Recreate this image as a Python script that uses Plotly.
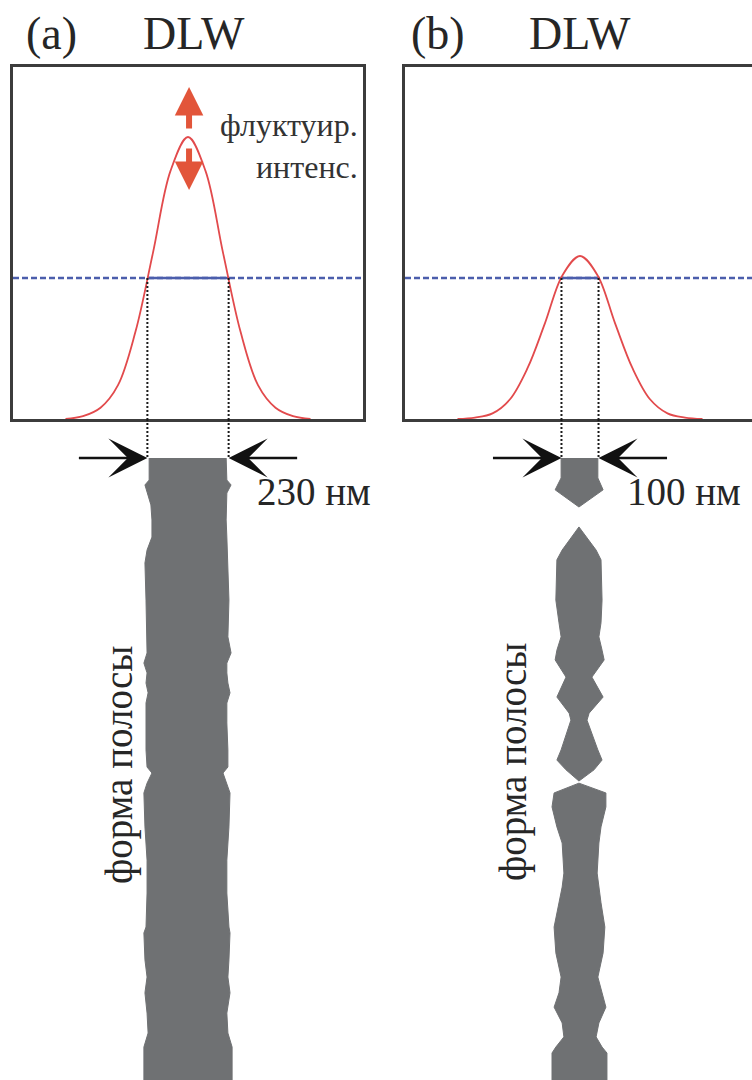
import numpy as np
import plotly.graph_objects as go

W, H = 752, 1080

# ---------------- data ----------------
# laser intensity profiles (normalised), lateral position in nm
profile_x_nm = [-350, -300, -250, -200, -150, -100, -50, 0, 50, 100, 150, 200, 250, 300, 350]
intensity_a = [0.0, 0.01, 0.04, 0.12, 0.31, 0.59, 0.88, 1.00, 0.88, 0.59, 0.31, 0.12, 0.04, 0.01, 0.0]
intensity_b = [0.0, 0.005, 0.02, 0.07, 0.18, 0.34, 0.51, 0.578, 0.51, 0.34, 0.18, 0.07, 0.02, 0.005, 0.0]
threshold = 0.5

panel_labels = ["(a)", "(b)"]
method_label = "DLW"
width_labels = ["230 нм", "100 нм"]
stripe_label = "форма полосы"
fluct_label = "флуктуир.<br>интенс."

# stripe shape (a): position along stripe (nm) and left/right edges (nm)
stripe_a_pos = [0, 63, 77, 100, 134, 177, 226, 263, 300, 406, 511, 557, 586, 614, 643, 671, 700, 757,
                834, 883, 900, 929, 957, 1054, 1149, 1243, 1340, 1357, 1434, 1483, 1528, 1586, 1643, 1683, 1800]
stripe_a_left = [-111, -111, -123, -117, -106, -103, -103, -117, -123, -120, -117, -117, -126, -117, -120,
                 -114, -120, -120, -120, -117, -103, -117, -126, -123, -117, -117, -120, -126, -123, -117,
                 -123, -117, -114, -126, -126]
stripe_a_right = [109, 111, 123, 111, 111, 109, 111, 114, 114, 117, 114, 123, 111, 111, 114, 120, 111, 111,
                  114, 114, 100, 111, 120, 117, 111, 111, 117, 120, 117, 114, 120, 111, 114, 126, 126]

# stripe shape (b): three separate fragments
stripe_b_pos = [
    [0, 57, 91, 140],
    [197, 263, 291, 406, 471, 511, 549, 577, 626, 683, 729, 749, 834, 863, 891, 923],
    [929, 957, 997, 1054, 1100, 1186, 1226, 1271, 1340, 1414, 1483, 1528, 1569, 1614, 1654, 1683, 1700, 1800],
]
stripe_b_left = [
    [-54, -54, -71, -3],
    [-3, -51, -66, -69, -60, -54, -66, -71, -40, -66, -31, -26, -54, -66, -40, -3],
    [-3, -74, -80, -66, -51, -46, -51, -60, -74, -69, -54, -60, -74, -51, -46, -69, -80, -80],
]
stripe_b_right = [
    [51, 51, 66, -3],
    [-3, 46, 60, 63, 60, 54, 63, 69, 34, 66, 26, 20, 51, 63, 40, -3],
    [-3, 74, 74, 60, 54, 49, 54, 60, 71, 66, 51, 63, 74, 54, 46, 63, 77, 77],
]

# ---------------- style / layout ----------------
FONT = "Liberation Serif, Times New Roman, serif"
TXT = "#262626"
BOX = "#3c3c3c"
RED = "#e24a4c"
ARROW_RED = "#e2553a"
BLUE = "#4b5eac"
GRAY = "#6f7173"

NM = 1000 / 350          # nm per pixel
PX_PER_UNIT = 282        # pixels per unit of intensity
BOX_TOP, BOX_BOT = 67, 419
STRIPE_TOP = 458

XA_DOM = [13 / W, 363 / W]
XB_DOM = [405 / W, 1.0]
XR_A = [-500, 500]
XR_B = [-500, -500 + (W - 405) * NM]
TOP_DOM = [1 - BOX_BOT / H, 1 - BOX_TOP / H]
STRIPE_DOM = [0, 1 - BOX_BOT / H]
YR_TOP = [0, (BOX_BOT - BOX_TOP) / PX_PER_UNIT]
YR_STRIPE = [(H - STRIPE_TOP) * NM, (BOX_BOT - STRIPE_TOP) * NM]


def px(x):
    return x / W


def py(y):
    return 1 - y / H


def crossings(xs, ys, level):
    xs = np.asarray(xs, float)
    ys = np.asarray(ys, float)
    i = int(np.argmax(ys))
    left = np.interp(level, ys[: i + 1], xs[: i + 1])
    right = np.interp(level, ys[i:][::-1], xs[i:][::-1])
    return float(left), float(right)


fig = go.Figure()

panels = [
    dict(xa="x", ya="y", xs="x3", ys="y3", inten=intensity_a, xr=XR_A),
    dict(xa="x2", ya="y2", xs="x4", ys="y4", inten=intensity_b, xr=XR_B),
]

annotations = []
for p in panels:
    xl, xr = crossings(profile_x_nm, p["inten"], threshold)
    # threshold level (dashed) and width segment (solid)
    fig.add_trace(go.Scatter(x=p["xr"], y=[threshold, threshold], mode="lines",
                             line=dict(color=BLUE, width=2.4, dash="6px,3px"),
                             xaxis=p["xa"], yaxis=p["ya"], hoverinfo="skip"))
    fig.add_trace(go.Scatter(x=[xl, xr], y=[threshold, threshold], mode="lines",
                             line=dict(color=BLUE, width=2.4),
                             xaxis=p["xa"], yaxis=p["ya"], hoverinfo="skip"))
    # intensity profile
    fig.add_trace(go.Scatter(x=profile_x_nm, y=p["inten"], mode="lines",
                             line=dict(color=RED, width=1.8, shape="spline", smoothing=1.0),
                             xaxis=p["xa"], yaxis=p["ya"], hoverinfo="skip"))
    # dotted projection lines
    for xc in (xl, xr):
        fig.add_trace(go.Scatter(x=[xc, xc], y=[threshold, 0], mode="lines",
                                 line=dict(color="#1a1a1a", width=2, dash="2px,2px"),
                                 xaxis=p["xa"], yaxis=p["ya"], hoverinfo="skip"))
        fig.add_trace(go.Scatter(x=[xc, xc], y=[YR_STRIPE[1], 0], mode="lines",
                                 line=dict(color="#1a1a1a", width=2, dash="2px,2px"),
                                 xaxis=p["xs"], yaxis=p["ys"], hoverinfo="skip"))
    # width arrows
    for xc, sgn in ((xl, -1), (xr, 1)):
        annotations.append(dict(x=xc, y=0, xref=p["xs"], yref=p["ys"],
                                ax=xc + sgn * 70 * NM, ay=0, axref=p["xs"], ayref=p["ys"],
                                text="", showarrow=True, arrowhead=3, arrowsize=2.6,
                                arrowwidth=2.5, arrowcolor="#111111", standoff=0))

# stripes
fig.add_trace(go.Scatter(x=stripe_a_left + stripe_a_right[::-1],
                         y=stripe_a_pos + stripe_a_pos[::-1],
                         mode="lines", fill="toself", fillcolor=GRAY,
                         line=dict(color=GRAY, width=1, shape="linear"),
                         xaxis="x3", yaxis="y3", hoverinfo="skip"))
for pos, lft, rgt in zip(stripe_b_pos, stripe_b_left, stripe_b_right):
    fig.add_trace(go.Scatter(x=lft + rgt[::-1], y=pos + pos[::-1],
                             mode="lines", fill="toself", fillcolor=GRAY,
                             line=dict(color=GRAY, width=1),
                             xaxis="x4", yaxis="y4", hoverinfo="skip"))

# red fluctuation arrows (panel a)
annotations.append(dict(x=3, y=(BOX_BOT - 87) / PX_PER_UNIT, xref="x", yref="y",
                        ax=0, ay=43, text="", showarrow=True, arrowhead=2, arrowsize=0.95,
                        arrowwidth=6, arrowcolor=ARROW_RED, standoff=0))
annotations.append(dict(x=3, y=(BOX_BOT - 190) / PX_PER_UNIT, xref="x", yref="y",
                        ax=0, ay=-43, text="", showarrow=True, arrowhead=2, arrowsize=0.95,
                        arrowwidth=6, arrowcolor=ARROW_RED, standoff=0))

# text labels
for lbl, xl_px, xd_px in ((panel_labels[0], 24, 141), (panel_labels[1], 409, 527)):
    annotations.append(dict(x=px(xl_px), y=py(33), xref="paper", yref="paper", text=lbl,
                            showarrow=False, xanchor="left", yanchor="middle",
                            font=dict(family=FONT, size=46, color=TXT)))
    annotations.append(dict(x=px(xd_px), y=py(33), xref="paper", yref="paper", text=method_label,
                            showarrow=False, xanchor="left", yanchor="middle",
                            font=dict(family=FONT, size=46, color=TXT)))

for lbl, x0 in ((width_labels[0], 255), (width_labels[1], 625)):
    annotations.append(dict(x=px(x0), y=py(492), xref="paper", yref="paper", text=lbl,
                            showarrow=False, xanchor="left", yanchor="middle",
                            font=dict(family=FONT, size=39, color=TXT)))

annotations.append(dict(x=px(360), y=py(146), xref="paper", yref="paper", text=fluct_label,
                        showarrow=False, xanchor="right", yanchor="middle", align="right",
                        font=dict(family=FONT, size=32, color="#333333")))

for xc, yc in ((119, 765), (513, 762)):
    annotations.append(dict(x=px(xc), y=py(yc), xref="paper", yref="paper", text=stripe_label,
                            showarrow=False, xanchor="center", yanchor="middle", textangle=-90,
                            font=dict(family=FONT, size=39, color=TXT)))

hidden = dict(showgrid=False, zeroline=False, showticklabels=False, ticks="")
boxline = dict(showline=True, linecolor=BOX, linewidth=3)

fig.update_layout(
    width=W, height=H,
    margin=dict(l=0, r=0, t=0, b=0),
    paper_bgcolor="white", plot_bgcolor="rgba(0,0,0,0)",
    showlegend=False,
    font=dict(family=FONT),
    xaxis=dict(domain=XA_DOM, range=XR_A, anchor="y", mirror=True, **boxline, **hidden),
    yaxis=dict(domain=TOP_DOM, range=YR_TOP, anchor="x", mirror=True, **boxline, **hidden),
    xaxis2=dict(domain=XB_DOM, range=XR_B, anchor="y2", mirror=True, **boxline, **hidden),
    yaxis2=dict(domain=TOP_DOM, range=YR_TOP, anchor="x2", mirror=False, **boxline, **hidden),
    xaxis3=dict(domain=XA_DOM, range=XR_A, anchor="y3", visible=False),
    yaxis3=dict(domain=STRIPE_DOM, range=YR_STRIPE, anchor="x3", visible=False),
    xaxis4=dict(domain=XB_DOM, range=XR_B, anchor="y4", visible=False),
    yaxis4=dict(domain=STRIPE_DOM, range=YR_STRIPE, anchor="x4", visible=False),
    annotations=annotations,
)

fig.write_html("out.html", config={"displayModeBar": False},
               post_script="document.body.style.margin='0';document.body.style.padding='0';")
